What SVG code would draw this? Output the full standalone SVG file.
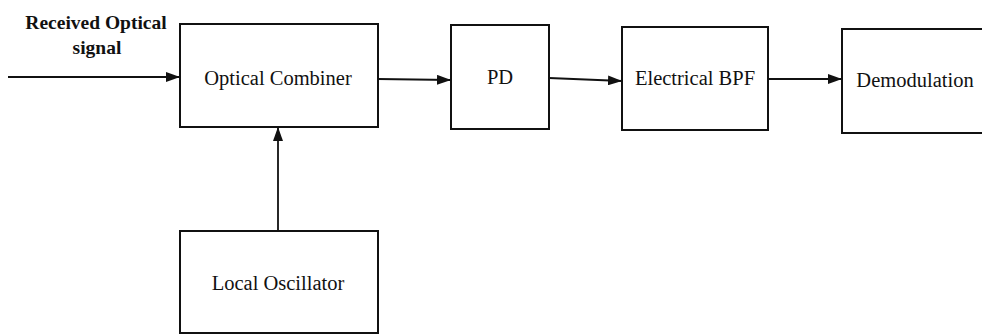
<svg xmlns="http://www.w3.org/2000/svg" width="982" height="334" viewBox="0 0 982 334">
  <style>
    .box { fill: #ffffff; stroke: #111111; stroke-width: 2; }
    text { font-family: 'Liberation Serif', 'DejaVu Serif', serif; font-size: 20.5px; fill: #111111; text-anchor: middle; }
    text.bold { font-weight: bold; font-size: 19.5px; }
    .conn { stroke: #111111; stroke-width: 1.8; fill: none; marker-end: url(#arrow); }
  </style>
  <defs>
    <marker id="arrow" viewBox="0 0 14 10" refX="14" refY="5" markerWidth="14" markerHeight="10" markerUnits="userSpaceOnUse" orient="auto">
      <path d="M0,0 L14,5 L0,10 Z" fill="#111111"/>
    </marker>
  </defs>
  <rect width="982" height="334" fill="#ffffff"/>
  <g id="input-label">
    <text class="bold" x="96" y="29">Received Optical</text>
    <text class="bold" x="97" y="54">signal</text>
  </g>
  <g id="optical-combiner">
    <rect class="box" x="180" y="24" width="198" height="103"/>
    <text x="278" y="85">Optical Combiner</text>
  </g>
  <g id="pd">
    <rect class="box" x="451" y="25" width="98" height="104"/>
    <text x="500" y="84">PD</text>
  </g>
  <g id="electrical-bpf">
    <rect class="box" x="622" y="27" width="146" height="103"/>
    <text x="695" y="85">Electrical BPF</text>
  </g>
  <g id="demodulation">
    <rect class="box" x="842" y="29" width="150" height="104"/>
    <text x="915" y="87">Demodulation</text>
  </g>
  <g id="local-oscillator">
    <rect class="box" x="180" y="231" width="198" height="102"/>
    <text x="278" y="290">Local Oscillator</text>
  </g>
  <g id="connectors">
    <line class="conn" x1="8" y1="77" x2="180" y2="77"/>
    <line class="conn" x1="378" y1="79" x2="451" y2="80"/>
    <line class="conn" x1="549" y1="78" x2="622" y2="81"/>
    <line class="conn" x1="768" y1="79" x2="842" y2="79"/>
    <line class="conn" x1="278" y1="231" x2="278" y2="127"/>
  </g>
</svg>
